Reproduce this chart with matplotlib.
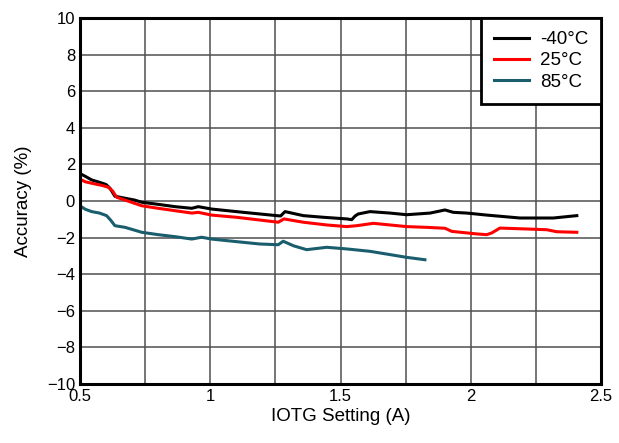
import matplotlib.pyplot as plt
from matplotlib.ticker import MultipleLocator

plt.rcParams['font.family'] = ['Liberation Sans', 'DejaVu Sans']

# -40C
x_m40 = [0.50, 0.52, 0.545, 0.575, 0.60, 0.615, 0.634, 0.673, 0.71, 0.737, 0.788, 0.865,
         0.929, 0.954, 1.005, 1.127, 1.255, 1.27, 1.287, 1.357, 1.434, 1.524, 1.543, 1.556,
         1.568, 1.613, 1.69, 1.754, 1.844, 1.901, 1.933, 1.985, 2.061, 2.189, 2.317, 2.407]
y_m40 = [1.50, 1.35, 1.15, 1.02, 0.90, 0.70, 0.26, 0.15, 0.05, -0.07, -0.16, -0.31,
         -0.40, -0.31, -0.44, -0.62, -0.80, -0.82, -0.58, -0.80, -0.89, -0.98, -1.02, -0.82,
         -0.71, -0.58, -0.66, -0.75, -0.66, -0.49, -0.62, -0.66, -0.77, -0.93, -0.93, -0.80]

# 25C
x_25 = [0.50, 0.52, 0.558, 0.585, 0.609, 0.625, 0.641, 0.673, 0.737, 0.80, 0.865, 0.929,
        0.954, 1.005, 1.10, 1.19, 1.261, 1.283, 1.357, 1.447, 1.524, 1.562, 1.626, 1.69,
        1.754, 1.831, 1.901, 1.927, 2.023, 2.061, 2.08, 2.112, 2.215, 2.292, 2.33, 2.407]
y_25 = [1.20, 1.05, 0.93, 0.85, 0.75, 0.55, 0.20, 0.05, -0.26, -0.40, -0.53, -0.66,
        -0.62, -0.77, -0.89, -1.04, -1.16, -0.98, -1.16, -1.31, -1.40, -1.35, -1.22, -1.31,
        -1.40, -1.44, -1.49, -1.66, -1.80, -1.84, -1.75, -1.48, -1.53, -1.57, -1.68, -1.71]

# 85C
x_85 = [0.50, 0.52, 0.545, 0.575, 0.602, 0.618, 0.634, 0.673, 0.737, 0.80, 0.865, 0.929,
        0.967, 1.005, 1.10, 1.19, 1.261, 1.28, 1.32, 1.37, 1.447, 1.524, 1.613, 1.69,
        1.754, 1.824]
y_85 = [-0.26, -0.45, -0.58, -0.66, -0.80, -1.05, -1.35, -1.44, -1.71, -1.84, -1.95, -2.08,
        -1.98, -2.08, -2.22, -2.35, -2.39, -2.20, -2.45, -2.66, -2.53, -2.62, -2.75, -2.93,
        -3.08, -3.21]

fig = plt.figure(figsize=(6.19, 4.43), dpi=100)
ax = fig.add_axes([0.1292, 0.1332, 0.8418, 0.8262])

ax.plot(x_m40, y_m40, color='black', linewidth=2.2, label='-40°C')
ax.plot(x_25, y_25, color='#ff0000', linewidth=2.2, label='25°C')
ax.plot(x_85, y_85, color='#1a5e6e', linewidth=2.2, label='85°C')

ax.set_xlim(0.5, 2.5)
ax.set_ylim(-10, 10)
ax.xaxis.set_major_locator(MultipleLocator(0.5))
ax.xaxis.set_minor_locator(MultipleLocator(0.25))
ax.yaxis.set_major_locator(MultipleLocator(2))
ax.xaxis.set_major_formatter(plt.FuncFormatter(lambda v, p: f'{v:g}'))
ax.grid(True, which='both', color='#505050', linewidth=1.1)
ax.tick_params(which='both', length=0, labelsize=12, colors='black')
for s in ax.spines.values():
    s.set_linewidth(2.2)
    s.set_color('black')

ax.set_xlabel('IOTG Setting (A)', fontsize=13.5, labelpad=3)
ax.set_ylabel('Accuracy (%)', fontsize=13.5, labelpad=11)

leg = ax.legend(loc='upper right', fontsize=13.5, fancybox=False, framealpha=1,
                edgecolor='black', borderaxespad=0, handlelength=1.9,
                labelspacing=0.22, borderpad=0.7, handletextpad=0.55)
leg.get_frame().set_linewidth(2.0)

fig.savefig('out.png', dpi=100)
